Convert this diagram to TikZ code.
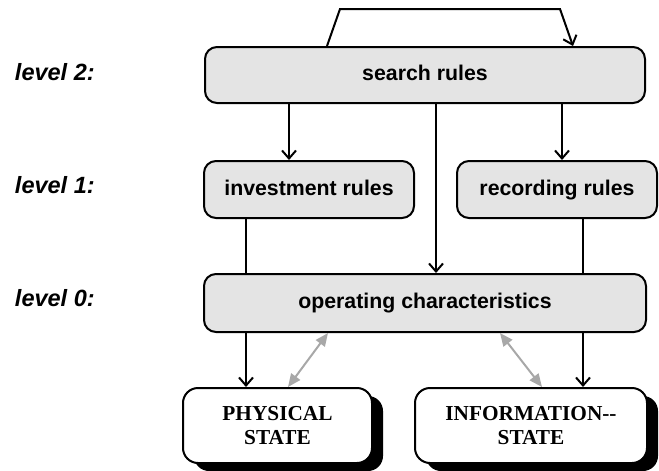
\documentclass[tikz,border=0pt]{standalone}
\usepackage{fontspec}
\setmainfont{Liberation Serif}
\setsansfont{Liberation Sans}
\usetikzlibrary{arrows.meta,shadows}
\definecolor{boxgray}{HTML}{E4E4E4}
\definecolor{arrgray}{HTML}{A8A8A8}
\begin{document}
\begin{tikzpicture}[x=1pt,y=1pt,line width=2pt,
  rulebox/.style={draw=black,fill=boxgray,rounded corners=12pt,inner sep=0pt,
    text height=15.5pt,text depth=4.5pt,
    font=\sffamily\bfseries\fontsize{21.3}{25}\selectfont},
  statebox/.style={draw=black,fill=white,rounded corners=15pt,inner sep=0pt,align=center,
    minimum width=189pt,minimum height=75pt,
    font=\rmfamily\bfseries\fontsize{21.3}{24}\selectfont,
    drop shadow={shadow xshift=11pt,shadow yshift=-8pt,fill=black,opacity=1}},
  levellabel/.style={anchor=west,inner sep=0pt,font=\sffamily\bfseries\itshape\fontsize{23.5}{27}\selectfont},
  arr/.style={-{Straight Barb[length=8pt,width=14pt,line width=2pt]}},
  garr/.style={draw=arrgray,{Triangle[length=13pt,width=11pt]}-{Triangle[length=13pt,width=11pt]}}
]
\useasboundingbox (0,0) rectangle (659,-471);

% level labels
\node[levellabel] (l2) at (14,-72) {level 2:};
\node[levellabel] (l1) at (14,-185) {level 1:};
\node[levellabel] (l0) at (14,-298) {level 0:};

% boxes
\node[rulebox,minimum width=440pt,minimum height=56pt] (search) at (425,-75) {search rules};
\node[rulebox,minimum width=210pt,minimum height=57pt] (inv) at (309,-189.5) {investment rules};
\node[rulebox,minimum width=200pt,minimum height=57pt] (rec) at (557,-189.5) {recording rules};
\node[rulebox,minimum width=442pt,minimum height=58pt] (op) at (425,-303) {operating characteristics};
\node[statebox] (phys) at (277.5,-425.5) {PHYSICAL\\STATE};
\node[statebox,minimum width=232pt] (info) at (531,-425.5) {INFORMATION-{}-\\STATE};

% loop above search rules
\coordinate (lp1) at (340,-9);
\coordinate (lp2) at (560,-9);
\draw[arr,line join=miter] ([xshift=-98pt]search.north) -- (lp1) -- (lp2) -- ([xshift=148pt]search.north);

% search -> level 1 and level 0
\draw[arr] ([xshift=-20pt]inv.north |- search.south) -- ([xshift=-20pt]inv.north);
\draw[arr] ([xshift=5pt]rec.north |- search.south) -- ([xshift=5pt]rec.north);
\draw[arr] ([xshift=11pt]search.south) -- ([xshift=11pt]op.north);

% level 1 -> level 0 lines
\draw ([xshift=-63pt]inv.south) -- ([xshift=-63pt]inv.south |- op.north);
\draw ([xshift=26pt]rec.south) -- ([xshift=26pt]rec.south |- op.north);

% level 0 -> states
\draw[arr] ([xshift=-63pt]inv.south |- op.south) -- ([xshift=-63pt]inv.south |- phys.north);
\draw[arr] ([xshift=26pt]rec.south |- op.south) -- ([xshift=26pt]rec.south |- info.north);

% gray double arrows
\draw[garr] ([xshift=-97pt]op.south) -- ([xshift=10.5pt]phys.north);
\draw[garr] ([xshift=75pt]op.south) -- ([xshift=11pt]info.north);
\end{tikzpicture}
\end{document}
